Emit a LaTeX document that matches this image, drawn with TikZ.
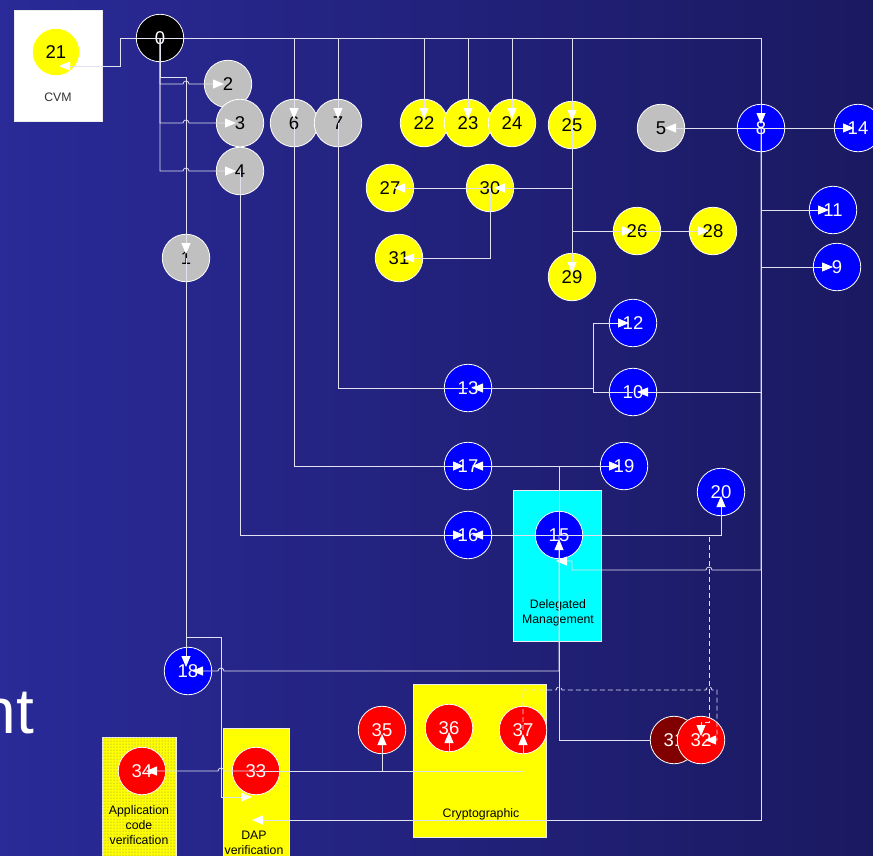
\documentclass[tikz,border=0pt]{standalone}
\usepackage{fontspec}
\setmainfont{Liberation Sans}
\usetikzlibrary{arrows.meta,patterns,calc}
\definecolor{bgl}{RGB}{42,42,152}
\definecolor{bgr}{RGB}{26,25,96}
\definecolor{ln}{RGB}{225,225,240}
\definecolor{gnode}{RGB}{192,192,192}
\definecolor{dred}{RGB}{128,0,0}
\definecolor{cyl}{RGB}{255,255,0}
\definecolor{cbl}{RGB}{0,0,255}
\definecolor{crd}{RGB}{255,0,0}
\definecolor{ccy}{RGB}{0,255,255}
\begin{document}
\begin{tikzpicture}[x=1pt,y=-1pt,
 nd/.style={circle,draw=white,line width=0.8pt,minimum size=47.5pt,inner sep=0pt,font=\fontsize{18.5}{18.5}\selectfont},
 gn/.style={nd,fill=gnode,text=black},
 yn/.style={nd,fill=cyl,text=black},
 bn/.style={nd,fill=cbl,text=white},
 rn/.style={nd,fill=crd,text=white},
 ed/.style={draw=ln,line width=0.8pt},
 ar/.style={ed,-{Triangle[length=11pt,width=9pt,color=white]},shorten >=4pt},
 dsh/.style={dash pattern=on 5pt off 3pt},
 bx/.style={draw=white!85!gray,line width=0.8pt,inner sep=0pt},
 lb/.style={font=\fontsize{12.3}{15}\selectfont,align=center,text=black,inner sep=0pt}]
\useasboundingbox (0,0) rectangle (873,855);
\shade[left color=bgl,right color=bgr] (0,0) rectangle (873,855);
\node[text=white,font=\fontsize{64}{64}\selectfont,anchor=base east,inner sep=0pt] (tnt) at (34,733) {nt};
% boxes
\node[bx,fill=white,minimum width=88pt,minimum height=111pt] (bCVM) at (58,65.5) {};
\node[bx,fill=ccy,minimum width=88pt,minimum height=151pt] (bDM) at (557,565.5) {};
\node[bx,fill=cyl,minimum width=133pt,minimum height=153pt] (bCR) at (479.5,760.5) {};
\node[bx,fill=cyl,minimum width=74pt,minimum height=123pt,postaction={pattern=dots,pattern color=black!55}] (bACV) at (139,798.5) {};
\node[bx,fill=cyl,minimum width=66pt,minimum height=132pt] (bDAP) at (256,794) {};
\node[lb,text=black!80] (lCVM) at (58,97) {CVM};
\node[lb] (lDM) at (558,613) {Delegated\\Management};
\node[lb] (lCR) at (481,814) {Cryptographic};
\node[lb] (lACV) at (139,825) {Application\\code\\verification};
\node[lb] (lDAP) at (254,843) {DAP\\verification};
% nodes
\node[nd,fill=black,text=white] (n0) at (160,38) {0};
\node[yn] (n21) at (56,52) {21};
\node[gn] (n2) at (228,84) {2};
\node[gn] (n3) at (240,123) {3};
\node[gn] (n4) at (240,171) {4};
\node[gn] (n6) at (294,123) {6};
\node[gn] (n7) at (338,123) {7};
\node[yn] (n22) at (424,123) {22};
\node[yn] (n23) at (468,123) {23};
\node[yn] (n24) at (512,123) {24};
\node[yn] (n25) at (572,125) {25};
\node[gn] (n5) at (661,128) {5};
\node[bn] (n8) at (761,128) {8};
\node[bn] (n14) at (858,128) {14};
\node[yn] (n27) at (390,188) {27};
\node[yn] (n30) at (490,188) {30};
\node[yn] (n31) at (399,258) {31};
\node[yn] (n26) at (637,231) {26};
\node[yn] (n28) at (713,231) {28};
\node[yn] (n29) at (572,277) {29};
\node[bn] (n11) at (833,210) {11};
\node[bn] (n9) at (837,267) {9};
\node[gn] (n1) at (186,258) {1};
\node[bn] (n12) at (633,323) {12};
\node[bn] (n13) at (468,388) {13};
\node[bn] (n10) at (633,392) {10};
\node[bn] (n17) at (468,466) {17};
\node[bn] (n19) at (624,466) {19};
\node[bn] (n20) at (721,492) {20};
\node[bn] (n16) at (468,535) {16};
\node[bn] (n15) at (559,535) {15};
\node[bn] (n18) at (188,671) {18};
\node[rn] (n35) at (382,730) {35};
\node[rn] (n36) at (449,728) {36};
\node[rn] (n37) at (523,730) {37};
\node[rn] (n34) at (142,771) {34};
\node[rn] (n33) at (256,771) {33};
\coordinate (c21) at (55,66);
\coordinate (c33) at (256,797);
\coordinate (c33b) at (248,820);
\coordinate (c15) at (552,561);
% solid connectors
\draw[ar] (n0.center) -| (120,66) -- (c21);
\draw[ar] (n0.center) -- (160,84) -- (183,84) arc[start angle=180,end angle=360,radius=3] -- (n2.center);
\draw[ar] (n0.center) -- (160,123) -- (183,123) arc[start angle=180,end angle=360,radius=3] -- (n3.center);
\draw[ar] (n0.center) -- (160,171) -- (183,171) arc[start angle=180,end angle=360,radius=3] -- (n4.center);
\draw[ar] (n0.center) -- (160,77) -| (n1.center);
\draw[ar] (n0.center) -| (n6.center);
\draw[ar] (n0.center) -| (n7.center);
\draw[ar] (n0.center) -| (n22.center);
\draw[ar] (n0.center) -| (n23.center);
\draw[ar] (n0.center) -| (n24.center);
\draw[ar] (n0.center) -| (n25.center);
\draw[ar] (n0.center) -| (n8.center);
\draw[ar] (n6.center) |- (n17.center);
\draw[ed] (n7.center) |- (n13.center);
\draw[ar] (n4.center) |- (n16.center);
\draw[ar] (n25.center) |- (n30.center);
\draw[ar] (n30.center) -- (n27.center);
\draw[ar] (n30.center) |- (n31.center);
\draw[ar] (n25.center) -- (n29.center);
\draw[ar] (n25.center) |- (n26.center);
\draw[ar] (n26.center) -- (n28.center);
\draw[ar] (n8.center) -- (n5.center);
\draw[ar] (n8.center) -- (n14.center);
\draw[ar] (n8.center) |- (n11.center);
\draw[ar] (n8.center) |- (n9.center);
\draw[ar] (n8.center) |- (n10.center);
\draw[ar] (n10.center) -- (593,392) |- (n12.center);
\draw[ar] (n10.center) -- (593,392) -- (593,388) -- (n13.center);
\draw[ar] (n15.center) |- (n17.center);
\draw[ar] (n15.center) |- (n19.center);
\draw[ar] (n15.center) -- (n16.center);
\draw[ar] (n15.center) -| (n20.center);
\draw[ar] (n15.center) -- (559,671) -- (224,671) arc[start angle=0,end angle=-180,radius=3] -- (n18.center);
\draw[ar] (n1.center) -- (n1.center |- n18.center);
\draw[ar] (n1.center) -- (186,637) -- (221,637) -- (221,797) -- (c33);
\draw[ar] (n8.center) -- (761,570) -- (712,570) arc[start angle=0,end angle=-180,radius=3] -- (572,570) -- (572,561) -- (c15);
\draw[ar] (n8.center) -- (761,820) -- (c33b);
\draw[ar] (n33.center) -- (224,771) arc[start angle=0,end angle=-180,radius=3] -- (n34.center);
\draw[ar] (n33.center) -| (n35.center);
\draw[ar] (n33.center) -| (n36.center);
\draw[ar] (n33.center) -| (n37.center);
\node[nd,fill=dred,text=white] (nD) at (674,740) {31};
\draw[ar] (nD.west) -- (559,740) -- (n15.center);
\node[rn] (n32) at (701,740) {32};
% dashed connectors
\draw[ar,dsh] (n15.center) -- (709,535) -- (709,722) -- (701,722) -- (n32.center);
\draw[ar,dsh] (n37.center) -- (523,690) -- (556,690) arc[start angle=180,end angle=360,radius=3] -- (706,690) arc[start angle=180,end angle=360,radius=3] -- (717,690) -- (717,740) -- (n32.center);
\end{tikzpicture}
\end{document}
